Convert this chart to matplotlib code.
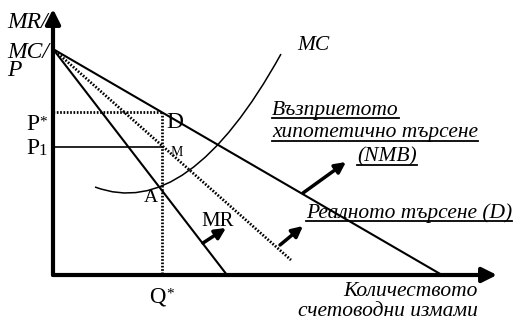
import numpy as np
import matplotlib
matplotlib.use('Agg')
import matplotlib.pyplot as plt
from matplotlib.path import Path
from matplotlib.patches import PathPatch

plt.rcParams['font.family'] = ['Liberation Serif', 'DejaVu Serif']

# diagram geometry in picture pixels (x right, y down)
origin = (53, 275)
y_axis_tip = (53, 9)
x_axis_tip = (497, 275)
top = (53, 49)                  # common start of D, NMB and MR
d_end = (442, 275)              # real demand (D)
nmb_end = (291, 260)            # perceived hypothetical demand (dotted)
mr_end = (227, 275)             # marginal revenue
mc_curve = [(95, 187), (188, 222), (281, 54)]   # quadratic bezier for MC
q_star = 162
p_star = 112
p_one = 147
shift_arrows = [((303, 193), (346, 162)),
                ((280, 245), (303, 226)),
                ((203, 243), (226, 228))]

fig = plt.figure(figsize=(5.18, 3.2), dpi=100)
ax = fig.add_axes([0, 0, 1, 1])
ax.set_xlim(0, 518)
ax.set_ylim(320, 0)
ax.axis('off')

# axes with arrows
for tip in (y_axis_tip, x_axis_tip):
    ax.annotate('', xy=tip, xytext=origin,
                arrowprops=dict(arrowstyle='-|>', lw=3, color='black',
                                mutation_scale=22, shrinkA=0, shrinkB=0))

# demand / MR lines
ax.plot([top[0], d_end[0]], [top[1], d_end[1]], color='black', lw=1.5)
ax.plot([top[0], mr_end[0]], [top[1], mr_end[1]], color='black', lw=1.5)
ax.plot([top[0], nmb_end[0]], [top[1], nmb_end[1]], color='black', lw=2,
        ls=(0, (0.6, 0.6)))

# MC curve
mc = PathPatch(Path(mc_curve, [Path.MOVETO, Path.CURVE3, Path.CURVE3]),
               fc='none', ec='black', lw=1.1)
ax.add_patch(mc)

# guide lines
ax.plot([origin[0], q_star], [p_star, p_star], color='black', lw=2, ls=(0, (0.6, 0.6)))
ax.plot([q_star, q_star], [p_star, origin[1]], color='black', lw=2, ls=(0, (0.6, 0.6)))
ax.plot([origin[0], q_star], [p_one, p_one], color='black', lw=1.2)

# shift arrows
for start, end in shift_arrows:
    ax.annotate('', xy=end, xytext=start,
                arrowprops=dict(arrowstyle='-|>', lw=2.5, color='black',
                                mutation_scale=16, shrinkA=0, shrinkB=0))

# labels
fs = 15.5
for txt, y in (('MR/', 22), ('MC/', 52), ('P', 71)):
    ax.text(7, y, txt, style='italic', fontsize=17, va='center', ha='left')
ax.text(26, 125, 'P', fontsize=17, va='center', ha='left')
ax.text(39, 122, '*', fontsize=11, va='center', ha='left')
ax.text(26, 148, 'P', fontsize=17, va='center', ha='left')
ax.text(38.5, 151, '1', fontsize=12, va='center', ha='left')
ax.text(166, 122, 'D', fontsize=17, va='center', ha='left')
ax.text(171, 152, 'M', fontsize=10, va='center', ha='left')
ax.text(144, 198, 'A', fontsize=14, va='center', ha='left')
ax.text(201, 221, 'MR', fontsize=15, va='center', ha='left')
ax.text(297, 45, 'MC', style='italic', fontsize=fs, va='center', ha='left')
ax.text(149, 297, 'Q', fontsize=16.5, va='center', ha='left')
ax.text(166, 294, '*', fontsize=11, va='center', ha='left')
ax.text(478, 292, 'Количеството', style='italic', fontsize=fs, va='center', ha='right')
ax.text(478, 311, 'счетоводни измами', style='italic', fontsize=fs, va='center', ha='right')

underlined = [
    ax.text(272, 110, 'Възприетото', style='italic', fontsize=fs, va='center', ha='left'),
    ax.text(272, 133, 'хипотетично търсене', style='italic', fontsize=fs, va='center', ha='left'),
    ax.text(357, 157, '(NMB)', style='italic', fontsize=fs, va='center', ha='left'),
    ax.text(306, 213, 'Реалното търсене (D)', style='italic', fontsize=fs, va='center', ha='left'),
]

fig.canvas.draw()
inv = ax.transData.inverted()
for t in underlined:
    bb = t.get_window_extent()
    (x0, y0), (x1, y1) = inv.transform([[bb.x0, bb.y0], [bb.x1, bb.y1]])
    ax.plot([x0, x1], [y0 - 1.5, y0 - 1.5], color='black', lw=1.3)

fig.savefig('out.png', dpi=100)
